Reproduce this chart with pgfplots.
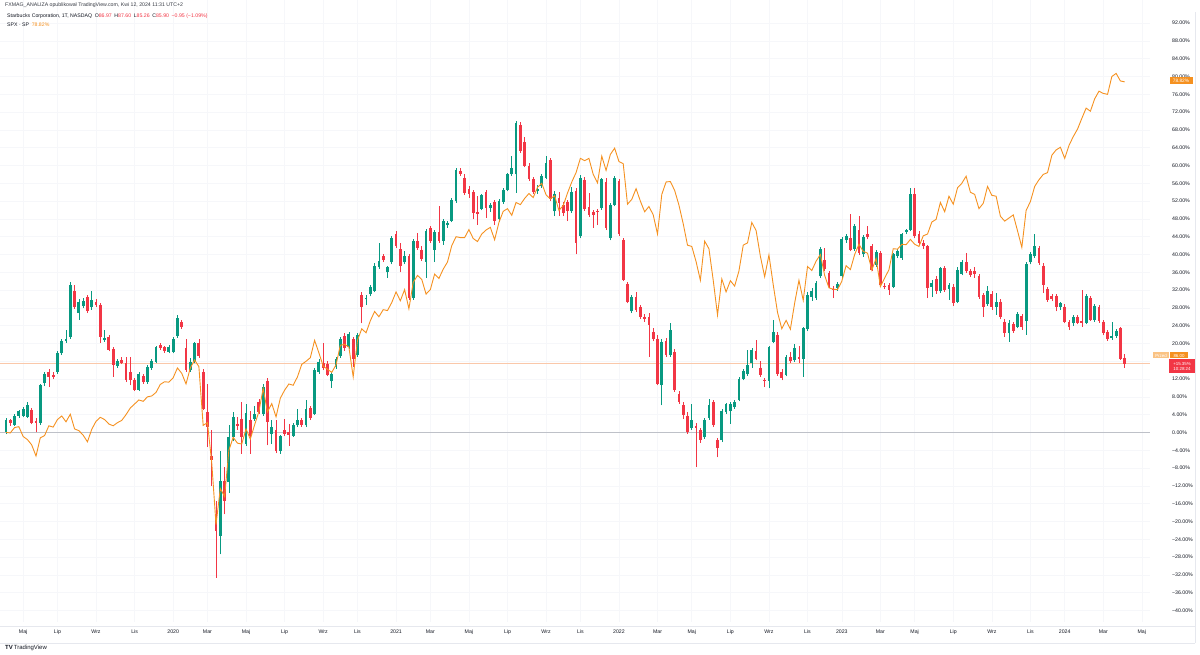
\documentclass[border=0pt]{standalone}
\usepackage{pgfplots}
\pgfplotsset{compat=1.18}
\usepackage{pgfplotstable}
\usepackage{fontspec}
\setmainfont{Liberation Sans}

\definecolor{upc}{RGB}{8,153,129}
\definecolor{dnc}{RGB}{242,54,69}
\definecolor{spxc}{RGB}{245,145,32}
\definecolor{txt}{RGB}{19,23,34}
\definecolor{gridc}{RGB}{246,247,250}
\definecolor{sepc}{RGB}{230,232,238}
\definecolor{zeroc}{RGB}{190,193,200}
\definecolor{pricel}{RGB}{250,200,170}

\newcommand{\tv}{\fontsize{5.2}{6.2}\selectfont}

% Starbucks weekly candles, % change vs first week
\pgfplotstableread{
i o h l c
0 0.0 3.2 -0.4 2.9
1 2.7 3.0 1.5 2.1
2 1.7 4.2 1.4 3.8
3 3.7 5.1 3.3 4.8
4 3.7 5.8 3.4 5.3
5 3.5 6.8 3.2 6.1
6 5.1 5.4 1.8 2.1
7 2.6 3.2 0.0 2.1
8 2.1 10.9 1.7 10.6
9 11.1 13.6 10.4 13.2
10 13.6 14.2 10.2 12.5
11 12.9 13.6 12.0 12.5
12 13.6 18.4 13.2 17.9
13 17.8 20.9 17.4 20.5
14 20.6 23.0 20.2 21.1
15 21.5 33.9 21.1 33.2
16 31.7 33.2 27.8 28.3
17 26.8 30.0 25.3 29.4
18 28.4 30.2 27.9 29.6
19 30.5 30.9 26.8 27.2
20 28.1 31.7 27.6 29.8
21 29.4 30.0 28.2 28.7
22 28.7 29.0 20.2 21.5
23 20.8 23.0 20.4 21.3
24 21.5 22.0 18.2 18.5
25 18.7 19.2 12.5 15.1
26 15.0 16.6 14.6 16.1
27 16.3 17.0 15.4 15.7
28 15.5 16.9 11.3 11.7
29 13.6 17.0 10.6 11.7
30 11.9 12.3 9.3 9.6
31 9.6 13.5 9.3 13.1
32 12.6 13.2 11.0 11.4
33 11.4 15.1 11.0 14.7
34 14.5 16.4 14.1 16.0
35 15.9 19.5 15.6 19.1
36 19.6 20.0 18.5 18.9
37 19.1 19.5 17.9 18.3
38 18.1 19.7 17.8 19.3
39 18.1 21.5 17.8 21.1
40 21.7 26.3 21.3 25.8
41 24.8 25.3 23.2 23.6
42 18.9 21.0 13.7 14.0
43 14.0 16.8 13.6 15.9
44 15.9 20.4 15.5 20.0
45 20.0 21.0 16.8 17.2
46 13.6 14.3 5.0 5.3
47 4.6 11.0 -3.3 1.2
48 -5.2 0.5 -12.0 -6.3
49 -18.7 -15.3 -32.7 -22.1
50 -23.3 -4.1 -27.4 -10.8
51 -10.8 -7.8 -18.4 -15.3
52 -11.2 1.6 -13.5 -1.1
53 -1.1 4.5 -2.0 3.5
54 2.0 3.5 0.6 1.4
55 3.1 6.8 -4.8 -1.1
56 -2.6 6.5 -3.0 4.4
57 2.9 4.8 -4.8 -0.7
58 3.1 6.0 2.5 4.2
59 6.8 7.6 4.2 4.6
60 4.2 10.8 3.8 10.2
61 11.6 12.2 -2.9 2.3
62 -0.3 2.7 -2.6 1.2
63 0.6 2.7 -4.7 -4.1
64 -4.1 -0.5 -4.8 -0.9
65 0.5 3.0 -0.8 -0.3
66 0.1 2.0 -3.0 -0.5
67 -0.7 2.2 -1.0 1.7
68 1.6 5.3 1.2 2.7
69 2.7 3.2 1.2 1.6
70 1.6 7.4 1.2 5.3
71 5.5 6.0 2.8 3.3
72 4.2 14.5 3.9 14.1
73 13.6 16.4 13.2 15.9
74 15.5 20.0 14.0 14.4
75 15.3 16.0 12.6 13.0
76 11.5 13.6 10.0 13.2
77 14.7 17.0 14.3 16.4
78 17.2 21.5 16.8 20.9
79 21.7 22.3 18.4 18.9
80 19.1 22.5 18.7 22.1
81 20.9 21.4 14.7 16.6
82 17.4 22.3 17.0 21.9
83 30.9 31.6 24.5 28.3
84 29.9 31.0 28.6 30.3
85 31.1 33.2 30.6 32.6
86 31.9 38.0 31.5 37.5
87 37.1 42.5 36.7 38.5
88 39.6 40.2 38.3 38.7
89 36.0 37.5 34.8 37.1
90 38.2 44.1 37.8 43.7
91 44.7 45.3 41.5 42.0
92 41.2 42.6 36.0 37.5
93 38.2 40.8 37.8 39.6
94 39.6 40.2 29.8 30.2
95 30.2 43.5 29.8 43.1
96 43.0 44.8 41.0 41.5
97 41.1 41.8 38.5 39.0
98 38.4 45.7 34.7 45.2
99 46.0 46.4 42.6 43.0
100 41.1 45.5 38.3 45.0
101 45.0 50.9 42.6 43.0
102 43.0 48.0 42.2 47.6
103 46.6 47.5 46.0 47.0
104 47.6 52.6 47.2 52.2
105 52.0 59.5 51.6 59.1
106 58.8 59.4 57.6 58.0
107 57.3 58.2 53.4 53.9
108 54.8 55.5 52.7 53.5
109 54.0 54.5 47.9 49.4
110 49.5 53.1 46.7 49.2
111 50.3 53.7 49.9 53.3
112 54.0 54.5 48.2 50.5
113 50.5 51.6 49.6 51.2
114 51.8 52.3 46.6 47.5
115 47.9 52.4 47.4 52.0
116 51.8 55.0 51.4 54.6
117 54.6 58.4 54.2 58.0
118 58.0 62.2 57.6 59.5
119 58.0 69.9 53.9 69.5
120 69.1 69.7 62.8 63.3
121 65.2 66.3 59.6 60.0
122 60.0 60.6 56.5 56.9
123 56.9 57.4 53.6 54.0
124 54.2 55.6 53.6 54.8
125 55.4 58.2 55.0 57.6
126 57.3 62.2 56.9 60.6
127 61.2 61.7 52.0 52.4
128 49.7 54.2 48.6 53.5
129 52.7 54.0 48.6 51.6
130 51.2 51.8 48.6 49.4
131 51.8 52.2 47.5 49.7
132 49.7 55.2 49.3 54.0
133 54.3 55.0 40.0 42.6
134 44.1 57.8 43.6 57.3
135 56.7 57.4 49.8 50.3
136 50.7 53.8 48.4 48.8
137 49.5 50.1 46.0 48.8
138 49.7 50.3 46.6 49.6
139 50.5 57.3 50.1 56.9
140 56.3 57.2 45.6 46.0
141 43.7 51.6 43.2 51.2
142 51.2 57.7 50.8 57.3
143 56.5 57.0 44.1 44.5
144 43.3 43.8 34.0 34.3
145 33.4 33.9 29.0 29.4
146 27.2 30.9 26.8 30.5
147 30.4 31.5 27.1 27.5
148 28.1 28.6 25.5 25.9
149 26.0 26.7 24.9 25.4
150 26.0 26.8 17.0 24.2
151 22.6 23.4 20.5 20.9
152 21.1 21.8 10.6 11.0
153 10.6 21.0 6.1 20.4
154 20.5 21.2 17.0 17.4
155 17.4 24.5 17.0 23.0
156 18.1 18.8 9.1 9.5
157 8.6 9.3 6.4 6.8
158 6.1 6.8 3.0 3.9
159 3.8 4.5 -0.3 0.1
160 1.0 6.5 0.6 2.7
161 1.4 2.2 -7.8 1.1
162 0.5 1.0 -2.3 -1.7
163 -1.1 3.3 -1.5 2.9
164 3.3 7.6 2.9 6.1
165 6.8 7.2 1.2 1.6
166 -1.8 -1.3 -5.6 -3.5
167 -1.8 5.2 -2.2 4.8
168 4.6 6.7 4.2 6.3
169 4.8 6.9 2.0 6.5
170 5.7 7.2 5.3 6.8
171 7.4 12.5 7.0 12.1
172 12.1 14.2 11.7 13.8
173 13.1 18.5 12.7 15.1
174 15.7 18.9 14.5 18.5
175 18.3 20.8 16.2 16.6
176 14.6 16.0 12.5 12.9
177 11.7 12.2 10.2 11.5
178 11.6 19.5 9.9 19.1
179 20.4 25.3 20.0 22.6
180 22.0 22.5 12.7 13.1
181 13.5 14.2 11.7 12.2
182 13.0 17.3 12.6 16.9
183 16.9 18.0 15.6 16.1
184 16.2 19.8 15.8 19.0
185 17.0 19.5 15.5 16.6
186 16.4 23.8 12.5 23.4
187 23.2 31.5 22.8 30.9
188 30.5 32.5 29.6 31.7
189 30.2 34.1 29.8 33.7
190 35.1 41.6 34.7 41.2
191 38.8 41.5 36.3 36.7
192 35.8 36.3 32.4 32.8
193 32.3 33.0 30.2 32.1
194 32.4 33.8 31.9 33.3
195 35.1 43.9 34.7 43.5
196 43.2 44.6 42.6 44.1
197 43.7 49.0 40.7 41.1
198 41.2 46.9 40.8 46.5
199 45.6 48.6 39.9 40.3
200 40.0 44.3 39.5 43.9
201 44.5 46.3 43.4 43.9
202 41.8 42.3 36.2 36.6
203 37.7 40.9 37.3 40.5
204 40.3 40.8 32.8 33.2
205 33.0 33.6 32.2 32.7
206 33.2 33.7 30.9 32.1
207 32.8 40.4 32.4 40.0
208 39.7 41.2 39.2 40.7
209 39.2 44.9 38.8 44.5
210 45.1 45.8 44.6 45.4
211 45.6 55.0 45.2 53.6
212 53.6 55.0 43.6 44.1
213 44.5 45.3 42.2 42.6
214 42.6 43.2 41.3 41.8
215 41.8 42.2 30.2 32.4
216 32.8 34.2 30.4 33.7
217 34.5 35.2 31.2 31.7
218 31.7 37.3 31.3 36.9
219 36.9 37.4 31.6 32.1
220 32.2 33.6 29.8 33.1
221 32.8 33.3 28.5 29.0
222 29.4 37.1 29.0 36.6
223 35.7 38.8 35.3 38.2
224 38.2 40.3 35.8 36.2
225 36.2 36.8 34.9 35.4
226 36.2 37.3 34.8 35.7
227 35.1 35.6 30.0 30.5
228 30.9 31.4 26.0 28.3
229 28.9 33.0 28.5 31.7
230 31.2 31.8 27.6 28.1
231 28.3 31.4 26.5 29.4
232 29.4 29.9 25.4 25.9
233 24.9 25.4 21.5 22.4
234 22.3 25.2 20.4 24.7
235 24.3 24.8 22.4 22.9
236 23.8 27.1 23.4 26.6
237 26.2 26.7 23.1 23.6
238 25.1 38.4 22.0 37.9
239 38.2 40.6 37.8 40.2
240 39.6 44.5 39.2 41.8
241 41.5 42.0 37.7 38.1
242 37.5 38.0 31.3 33.2
243 32.2 32.7 29.4 29.8
244 30.7 31.2 29.5 29.9
245 30.7 31.2 27.2 28.1
246 28.1 29.4 27.5 29.0
247 28.3 28.8 24.5 24.9
248 24.9 25.3 23.0 23.6
249 24.5 26.4 23.9 26.0
250 26.0 26.5 24.3 24.7
251 25.1 32.1 23.8 24.5
252 24.7 31.1 24.3 30.7
253 30.2 30.7 25.0 25.3
254 25.3 28.8 24.9 28.4
255 28.1 28.6 24.7 25.1
256 24.9 25.3 21.8 22.3
257 22.6 23.0 20.6 21.1
258 21.2 24.9 20.8 21.6
259 21.7 23.3 21.3 22.8
260 23.4 23.8 16.3 16.6
261 16.8 17.6 14.5 15.4
}\sbux

% SPX weekly close, % change
\pgfplotstableread{
i s
0 0.0
1 -0.1
2 1.1
3 1.3
4 -0.9
5 -1.6
6 -2.8
7 -5.3
8 -1.2
9 -0.7
10 1.5
11 1.2
12 2.9
13 3.7
14 2.4
15 4.1
16 0.8
17 0.4
18 -0.6
19 -2.1
20 0.7
21 2.5
22 3.4
23 2.9
24 1.9
25 1.5
26 2.2
27 2.7
28 4.0
29 5.5
30 6.4
31 7.3
32 7.0
33 8.0
34 8.2
35 9.0
36 10.8
37 11.4
38 11.3
39 12.3
40 14.5
41 13.3
42 10.9
43 14.5
44 16.3
45 14.8
46 1.6
47 2.2
48 -6.8
49 -20.7
50 -12.6
51 -14.4
52 -4.0
53 -1.1
54 -2.4
55 -2.6
56 0.8
57 -1.5
58 1.7
59 4.7
60 9.9
61 4.6
62 6.5
63 3.5
64 7.7
65 9.5
66 10.9
67 10.6
68 12.5
69 15.3
70 16.0
71 16.8
72 20.7
73 17.9
74 14.9
75 14.2
76 13.5
77 15.2
78 19.6
79 19.8
80 19.2
81 12.5
82 20.7
83 23.3
84 22.4
85 25.1
86 27.2
87 26.0
88 27.6
89 27.4
90 29.2
91 31.6
92 29.6
93 32.1
94 27.8
95 33.7
96 35.3
97 34.4
98 31.1
99 32.1
100 35.6
101 34.6
102 36.7
103 38.3
104 42.0
105 44.0
106 43.8
107 43.8
108 45.6
109 43.6
110 42.9
111 44.6
112 45.5
113 46.1
114 43.3
115 47.2
116 49.7
117 50.3
118 48.8
119 51.7
120 51.2
121 52.6
122 53.7
123 52.8
124 55.1
125 56.0
126 53.4
127 52.5
128 53.2
129 49.9
130 51.0
131 53.8
132 56.3
133 58.4
134 61.6
135 61.1
136 61.6
137 58.0
138 56.1
139 62.1
140 58.9
141 62.5
142 63.9
143 60.9
144 60.4
145 51.3
146 52.4
147 54.8
148 52.0
149 49.6
150 50.8
151 48.9
152 44.6
153 53.5
154 56.3
155 56.4
156 54.4
157 51.1
158 46.9
159 42.1
160 41.8
161 38.4
162 34.2
163 43.0
164 41.3
165 34.2
166 26.4
167 34.5
168 31.6
169 34.1
170 32.9
171 36.3
172 42.1
173 42.6
174 47.2
175 45.4
176 39.6
177 35.0
178 39.9
179 33.2
180 27.0
181 23.3
182 25.2
183 23.2
184 29.1
185 34.2
186 29.7
187 37.3
188 36.4
189 38.5
190 40.0
191 35.3
192 32.5
193 32.2
194 32.1
195 34.0
196 37.5
197 36.6
198 40.0
199 42.3
200 40.7
201 40.3
202 36.5
203 39.1
204 32.8
205 34.7
206 36.6
207 41.3
208 41.2
209 42.3
210 42.2
211 43.4
212 42.3
213 41.8
214 44.2
215 44.6
216 47.3
217 47.9
218 51.7
219 49.6
220 53.1
221 51.3
222 55.0
223 56.0
224 57.6
225 54.0
226 53.5
227 50.3
228 51.5
229 55.3
230 53.3
231 53.1
232 48.6
233 47.5
234 48.2
235 48.9
236 45.3
237 41.6
238 49.9
239 51.9
240 55.3
241 56.8
242 58.0
243 58.4
244 62.3
245 63.5
246 64.1
247 61.6
248 64.5
249 66.5
250 68.2
251 70.6
252 72.9
253 72.2
254 75.0
255 76.7
256 76.2
257 76.0
258 80.0
259 80.7
260 79.0
261 78.8
}\spx

\begin{document}
\begin{tikzpicture}
\path[use as bounding box] (0pt,0pt) rectangle (1200pt,655pt);
\begin{axis}[
    at={(0pt,33pt)}, anchor=south west,
    scale only axis, width=1150pt, height=622pt,
    xmin=-1.4, xmax=266.9, ymin=-42.6, ymax=97.2,
    axis line style={draw=none},
    major tick length=0pt,
    grid=major, grid style={gridc, line width=0.6pt},
    xtick={4,12,21,30,39,47,56,65,74,82,91,99,108,117,126,134,143,152,160,169,178,187,195,204,212,221,230,239,247,256,265},
    xticklabels={Maj,Lip,Wrz,Lis,2020,Mar,Maj,Lip,Wrz,Lis,2021,Mar,Maj,Lip,Wrz,Lis,2022,Mar,Maj,Lip,Wrz,Lis,2023,Mar,Maj,Lip,Wrz,Lis,2024,Mar,Maj},
    ytick={-40,-36,...,92},
    yticklabel pos=right,
    % the 16.00% label is hidden behind the price labels in the original
    yticklabels={−40.00\%,−36.00\%,−32.00\%,−28.00\%,−24.00\%,−20.00\%,−16.00\%,−12.00\%,−8.00\%,−4.00\%,0.00\%,4.00\%,8.00\%,12.00\%,{},20.00\%,24.00\%,28.00\%,32.00\%,36.00\%,40.00\%,44.00\%,48.00\%,52.00\%,56.00\%,60.00\%,64.00\%,68.00\%,72.00\%,76.00\%,80.00\%,84.00\%,88.00\%,92.00\%},
    xticklabel style={font=\tv, text=txt, anchor=center, inner sep=0pt, yshift=-10pt},
    yticklabel style={font=\tv, text=txt, anchor=west, inner sep=0pt, xshift=22pt},
]
\draw[zeroc, line width=0.6pt] (axis cs:-1.4,0) -- (axis cs:266.9,0);
\draw[pricel, line width=0.7pt] (axis cs:-1.4,15.48) -- (axis cs:266.9,15.48);

% wicks
\addplot[draw=upc, line width=0.6pt, quiver={u=0, v=\thisrow{h}-\thisrow{l}},
    restrict expr to domain={\thisrow{c}-\thisrow{o}}{0:1000}]
    table[x=i, y=l] {\sbux};
\addplot[draw=dnc, line width=0.6pt, quiver={u=0, v=\thisrow{h}-\thisrow{l}},
    restrict expr to domain={\thisrow{c}-\thisrow{o}}{-1000:-0.0001}]
    table[x=i, y=l] {\sbux};
% bodies
\addplot[draw=upc, line width=2.8pt, quiver={u=0, v=\thisrow{c}-\thisrow{o}},
    restrict expr to domain={\thisrow{c}-\thisrow{o}}{0:1000}]
    table[x=i, y=o] {\sbux};
\addplot[draw=dnc, line width=2.8pt, quiver={u=0, v=\thisrow{c}-\thisrow{o}},
    restrict expr to domain={\thisrow{c}-\thisrow{o}}{-1000:-0.0001}]
    table[x=i, y=o] {\sbux};

\addplot[spxc, line width=0.9pt, mark=none] table[x=i, y=s] {\spx};
\end{axis}

% frame lines
\draw[sepc, line width=0.5pt] (0pt,29pt) -- (1195pt,29pt);
\draw[sepc, line width=0.5pt] (0pt,12pt) -- (1195pt,12pt);
\draw[sepc, line width=0.5pt] (1195pt,12pt) -- (1195pt,643pt);

% header
\node[anchor=west, font=\tv, text=txt!85, inner sep=0pt] at (5pt,650pt)
    {FXMAG\_ANALIZA opublikował TradingView.com, Kwi 12, 2024 11:31 UTC+2};
\node[anchor=west, font=\tv, text=txt, inner sep=0pt] at (7pt,638.5pt)
    {Starbucks Corporation, 1T, NASDAQ\enspace O\textcolor{dnc}{86.97}\enspace H\textcolor{dnc}{87.60}\enspace L\textcolor{dnc}{85.26}\enspace C\textcolor{dnc}{85.90}\enspace \textcolor{dnc}{−0.95 (−1.09\%)}};
\node[anchor=west, font=\tv, text=txt, inner sep=0pt] at (7pt,630.5pt)
    {SPX · SP\enspace \textcolor{spxc}{78.82\%}};

% price scale labels
\node[fill=spxc, text=white, font=\fontsize{4.8}{5.6}\selectfont, inner sep=0.8pt, minimum width=23pt, minimum height=7pt] at (1181pt,574pt) {78.82\%};
\node[fill=spxc!55, text=white, font=\fontsize{4.4}{5}\selectfont, inner sep=0.5pt, minimum width=16pt, minimum height=6pt] at (1161pt,299.5pt) {Przed};
\node[fill=spxc, text=white, font=\fontsize{4.4}{5}\selectfont, inner sep=0.5pt, minimum width=18pt, minimum height=6pt] at (1179pt,299.5pt) {86.00};
\node[fill=dnc, text=white, align=center, font=\fontsize{4.4}{5}\selectfont, inner sep=0.8pt, minimum width=26pt, minimum height=14pt] at (1182pt,289pt) {+15.35\%\\10:28:24};

% footer
\node[anchor=west, font=\fontsize{6}{7}\selectfont, text=txt, inner sep=0pt] at (5pt,7pt) {\textbf{TV}\,TradingView};
\end{tikzpicture}
\end{document}
